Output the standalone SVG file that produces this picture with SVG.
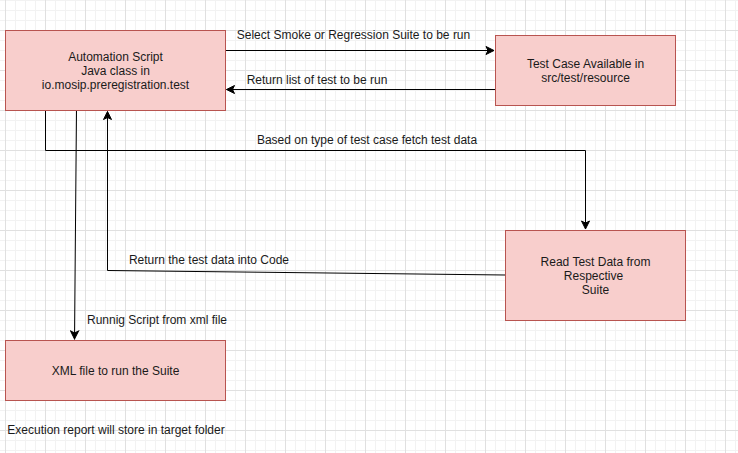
<svg xmlns="http://www.w3.org/2000/svg" width="738" height="453" viewBox="0 0 738 453">
<style>
  .node rect { fill: #f8cecc; stroke: #b85450; stroke-width: 1; }
  text { font-family: "Liberation Sans", Arial, sans-serif; font-size: 12px; fill: #1a1a1a; }
  .c { text-anchor: middle; }
  .edge { fill: none; stroke: #000; stroke-width: 1; }
</style>
<defs>
  <pattern id="grid" patternUnits="userSpaceOnUse" x="5" y="30" width="40" height="40">
    <path d="M10.5 0V40M20.5 0V40M30.5 0V40M0 10.5H40M0 20.5H40M0 30.5H40" stroke="#f2f2f2" stroke-width="1" fill="none"/>
    <path d="M0.5 0V40M0 0.5H40" stroke="#e0e0e0" stroke-width="1" fill="none"/>
  </pattern>
  <marker id="arr" markerUnits="userSpaceOnUse" markerWidth="10" markerHeight="10" viewBox="0 0 10 10" refX="9" refY="5" orient="auto">
    <path d="M1,1 L9,5 L1,9 L3,5 Z" fill="#000" stroke="#000" stroke-width="1"/>
  </marker>
</defs>
<rect width="738" height="453" fill="#ffffff"/>
<rect width="738" height="453" fill="url(#grid)"/>

<g id="connectors">
  <g id="e1">
    <path class="edge" d="M225.5 50.5H494" marker-end="url(#arr)"/>
    <text class="c" x="353.5" y="39">Select Smoke or Regression Suite to be run</text>
  </g>
  <g id="e2">
    <path class="edge" d="M495 89.5H226.5" marker-end="url(#arr)"/>
    <text class="c" x="317" y="84">Return list of test to be run</text>
  </g>
  <g id="e3">
    <path class="edge" d="M45.5 110V150.5H585.5V229" marker-end="url(#arr)"/>
    <text class="c" x="367" y="144">Based on type of test case fetch test data</text>
  </g>
  <g id="e4">
    <path class="edge" d="M505 275L107.5 270.5V111.5" marker-end="url(#arr)"/>
    <text class="c" x="209" y="264">Return the test data into Code</text>
  </g>
  <g id="e5">
    <path class="edge" d="M76.5 110L74.5 339" marker-end="url(#arr)" stroke="#333"/>
    <text class="c" x="157" y="324">Runnig Script from xml file</text>
  </g>
</g>

<g id="automation-script" class="node">
  <rect x="5.5" y="30.5" width="220" height="80"/>
  <text class="c" x="115.5" y="61">Automation Script</text>
  <text class="c" x="115.5" y="75">Java class in</text>
  <text class="c" x="115.5" y="89">io.mosip.preregistration.test</text>
</g>
<g id="test-case" class="node">
  <rect x="495.5" y="35.5" width="180" height="70"/>
  <text class="c" x="585.5" y="68">Test Case Available in</text>
  <text class="c" x="585.5" y="82">src/test/resource</text>
</g>
<g id="read-test-data" class="node">
  <rect x="505.5" y="230.5" width="180" height="90"/>
  <text class="c" x="595.5" y="266">Read Test Data from</text>
  <text class="c" x="593.5" y="280">Respective</text>
  <text class="c" x="595.5" y="294">Suite</text>
</g>
<g id="xml-file" class="node">
  <rect x="5.5" y="340.5" width="220" height="60"/>
  <text class="c" x="115.5" y="375">XML file to run the Suite</text>
</g>
<g id="note">
  <text class="c" x="116" y="434">Execution report will store in target folder</text>
</g>
</svg>
